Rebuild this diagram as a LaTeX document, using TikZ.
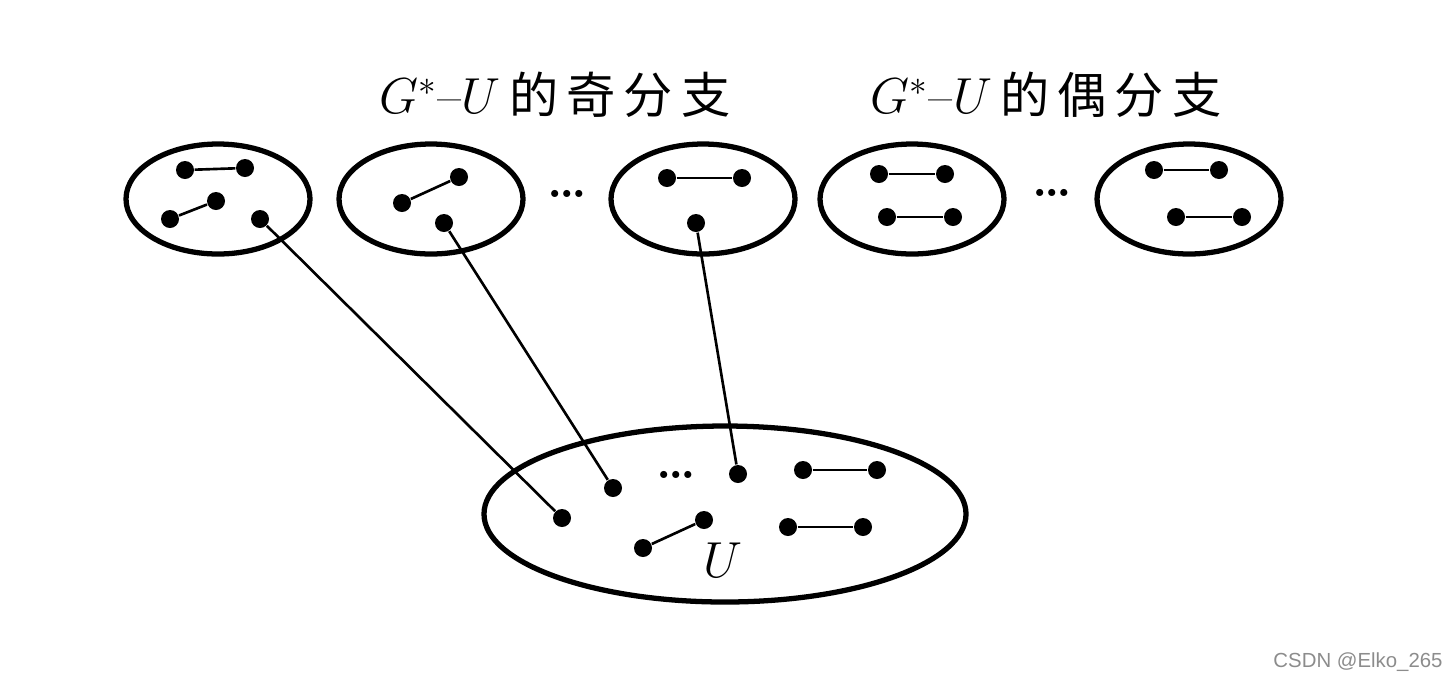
\documentclass[tikz,border=0pt]{standalone}
\usepackage{fontspec}
\newfontfamily\cjk{Noto Sans CJK SC}
\newfontfamily\wmfont{Liberation Sans}
\usetikzlibrary{shapes.geometric}

\begin{document}
\begin{tikzpicture}[
  comp/.style={draw, ellipse, line width=1.5pt, inner sep=0pt},
  vtx/.style={circle, fill, inner sep=0pt, minimum size=1.8mm},
  edge/.style={line width=0.75pt},
  title/.style={font=\fontsize{14}{16}\selectfont, inner sep=0pt},
  ell/.style={font=\fontsize{14}{16}\selectfont\bfseries, inner sep=0pt}
]
\useasboundingbox (0,0) rectangle (14.56,6.8);
% titles
\node[title] (oddt) at (5.55,5.85) {$G^{\ast}$--$U$\cjk\,的\,奇\,分\,支};
\node[title] (event) at (10.46,5.85) {$G^{\ast}$--$U$\cjk\,的\,偶\,分\,支};
% components
\node[comp, minimum width=1.84cm, minimum height=1.1cm] (o1) at (2.18,4.81) {};
\node[comp, minimum width=1.84cm, minimum height=1.1cm] (o2) at (4.31,4.81) {};
\node[comp, minimum width=1.84cm, minimum height=1.1cm] (o3) at (7.03,4.81) {};
\node[comp, minimum width=1.84cm, minimum height=1.1cm] (e1) at (9.12,4.81) {};
\node[comp, minimum width=1.84cm, minimum height=1.1cm] (e2) at (11.89,4.81) {};
\node[comp, minimum width=4.82cm, minimum height=1.76cm] (uset) at (7.25,1.66) {};
\node[ell] (odots) at (5.67,4.86) {\dots};
\node[ell] (edots) at (10.52,4.87) {\dots};
\node[ell] (udots) at (6.76,2.05) {\dots};
\node[font=\fontsize{14}{16}\selectfont] (ulab) at (7.23,1.20) {$U$};
% vertices
\node[vtx] (a1) at (1.85,5.10) {};
\node[vtx] (a2) at (2.45,5.12) {};
\node[vtx] (a3) at (2.16,4.79) {};
\node[vtx] (a4) at (1.70,4.61) {};
\node[vtx] (a5) at (2.60,4.61) {};
\node[vtx] (b1) at (4.59,5.03) {};
\node[vtx] (b2) at (4.02,4.77) {};
\node[vtx] (b3) at (4.44,4.57) {};
\node[vtx] (c1) at (6.67,5.02) {};
\node[vtx] (c2) at (7.42,5.02) {};
\node[vtx] (c3) at (6.96,4.57) {};
\node[vtx] (d1) at (8.79,5.06) {};
\node[vtx] (d2) at (9.45,5.06) {};
\node[vtx] (d3) at (8.87,4.63) {};
\node[vtx] (d4) at (9.53,4.63) {};
\node[vtx] (f1) at (11.54,5.10) {};
\node[vtx] (f2) at (12.19,5.10) {};
\node[vtx] (f3) at (11.76,4.63) {};
\node[vtx] (f4) at (12.42,4.63) {};
\node[vtx] (u1) at (5.62,1.62) {};
\node[vtx] (u2) at (6.13,1.92) {};
\node[vtx] (u3) at (7.38,2.06) {};
\node[vtx] (u4) at (8.03,2.10) {};
\node[vtx] (u5) at (8.77,2.10) {};
\node[vtx] (u6) at (7.88,1.53) {};
\node[vtx] (u7) at (8.63,1.53) {};
\node[vtx] (u8) at (6.43,1.32) {};
\node[vtx] (u9) at (7.04,1.60) {};
% edges
\draw[edge] (a1) -- (a2);
\draw[edge] (a4) -- (a3);
\draw[edge] (b2) -- (b1);
\draw[edge] (c1) -- (c2);
\draw[edge] (d1) -- (d2);
\draw[edge] (d3) -- (d4);
\draw[edge] (f1) -- (f2);
\draw[edge] (f3) -- (f4);
\draw[edge] (u4) -- (u5);
\draw[edge] (u6) -- (u7);
\draw[edge] (u8) -- (u9);
\draw[edge] (a5) -- (u1);
\draw[edge] (b3) -- (u2);
\draw[edge] (c3) -- (u3);
% watermark
\node[font=\wmfont\fontsize{5.8}{7}\selectfont, text=black!45, inner sep=0pt] (wm) at (13.58,0.18) {CSDN @Elko\_265};
\end{tikzpicture}
\end{document}
